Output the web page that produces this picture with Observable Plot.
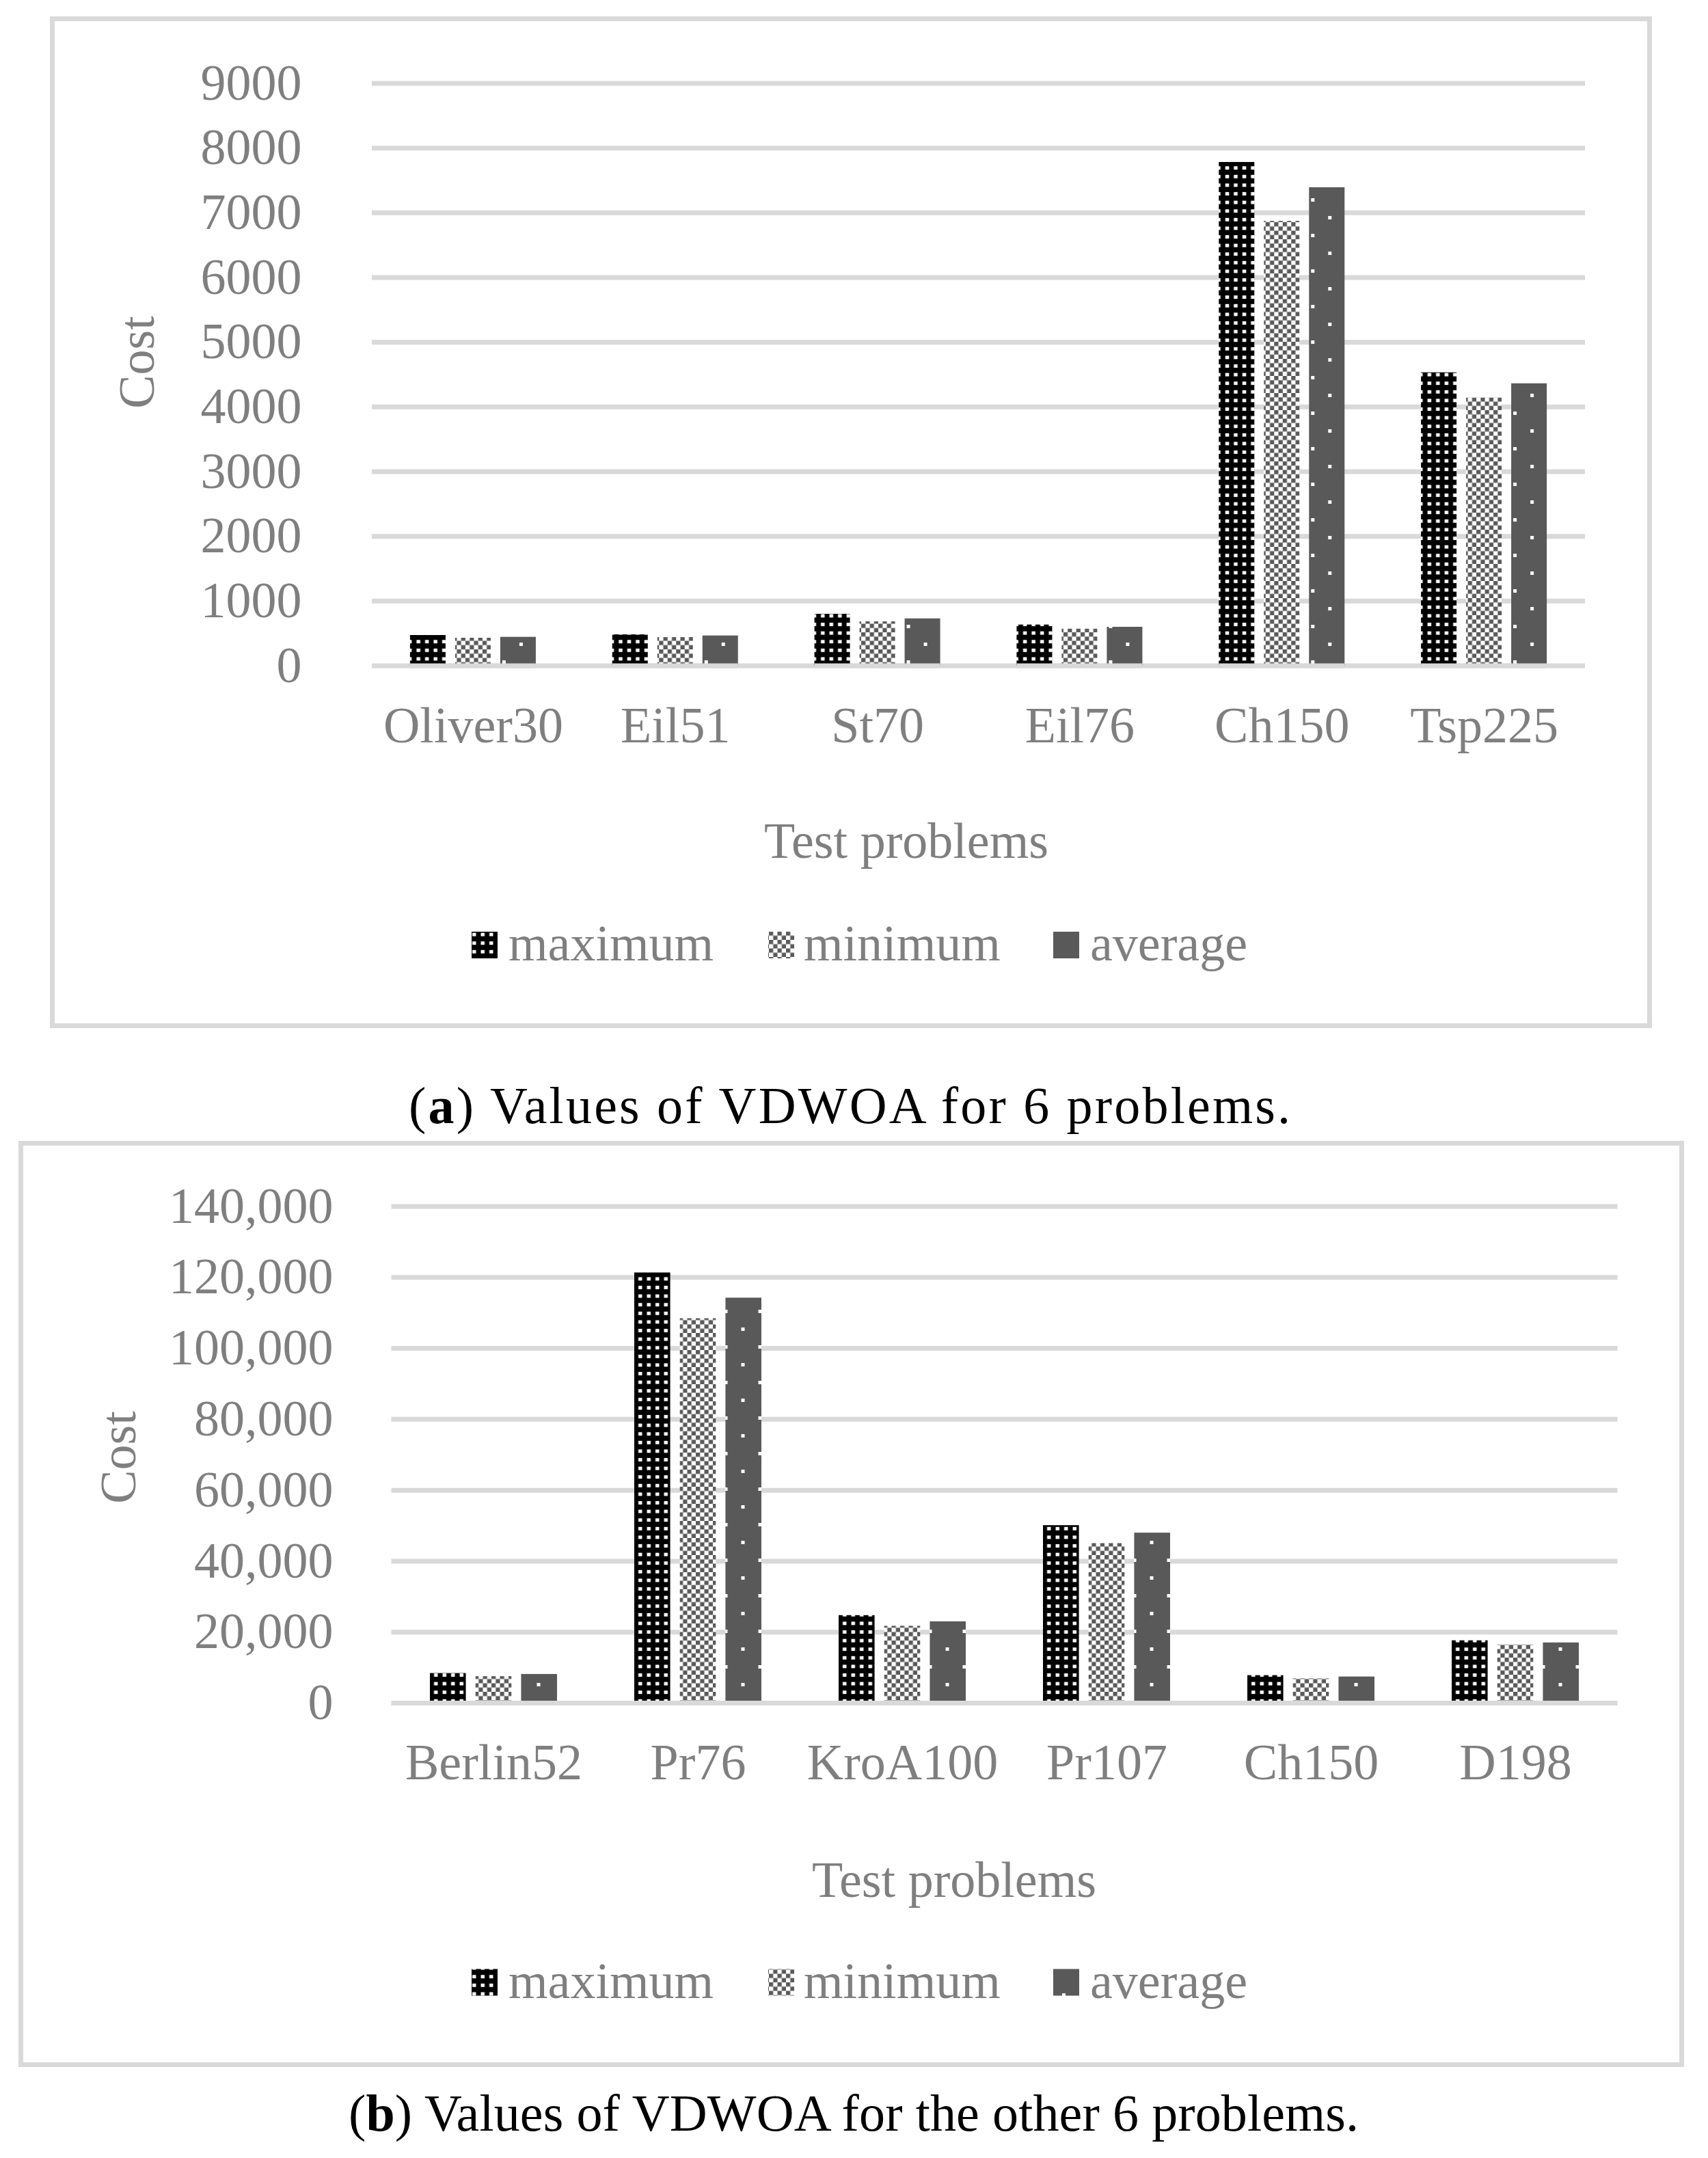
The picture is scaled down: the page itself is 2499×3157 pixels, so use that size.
<!DOCTYPE html>
<html>
<head>
<meta charset="utf-8">
<script src="https://cdn.jsdelivr.net/npm/d3@7"></script>
<script src="https://cdn.jsdelivr.net/npm/@observablehq/plot@0.6"></script>
<style>
  html, body { margin: 0; padding: 0; background: #fff; }
  body { position: relative; width: 2499px; height: 3157px; overflow: hidden; font-family: "Liberation Serif", "Times New Roman", serif; }
  .abs { position: absolute; }
  .abs > svg { position: absolute; left: 0; top: 0; }
  .border { position: absolute; box-sizing: border-box; border: 7px solid #d9d9d9; }
  #overlay { position: absolute; left: 0; top: 0; pointer-events: none; }
</style>
</head>
<body>
<div class="border" style="left:73px; top:24px; width:2344px; height:1480px;"></div>
<div class="border" style="left:27px; top:1669px; width:2437px; height:1355px;"></div>
<div id="panelA" class="abs" style="left:0; top:0; width:2499px; height:1300px;"></div>
<div id="panelB" class="abs" style="left:0; top:1600px; width:2499px; height:1100px;"></div>
<svg id="overlay" width="2499" height="3157"></svg>
<script>
// ---------- data ----------
const series = ["maximum", "minimum", "average"];

const problemsA = ["Oliver30", "Eil51", "St70", "Eil76", "Ch150", "Tsp225"];
const maxA = [470, 480, 798, 632, 7780, 4530];
const minA = [428, 438, 681, 568, 6870, 4140];
const avgA = [442, 463, 727, 597, 7390, 4360];
const ticksA = [0, 1000, 2000, 3000, 4000, 5000, 6000, 7000, 8000, 9000];

const problemsB = ["Berlin52", "Pr76", "KroA100", "Pr107", "Ch150", "D198"];
const maxB = [8370, 121300, 24700, 50060, 7780, 17600];
const minB = [7490, 108400, 21700, 45000, 6870, 16430];
const avgB = [8110, 114200, 22950, 47950, 7390, 17000];
const ticksB = [0, 20000, 40000, 60000, 80000, 100000, 120000, 140000];

const captionA = ["(", "a", ") Values of VDWOA for 6 problems."];
const captionB = ["(", "b", ") Values of VDWOA for the other 6 problems."];

// ---------- patterns ----------
const overlay = d3.select("#overlay");
const defs = overlay.append("defs");
const pmax = defs.append("pattern").attr("id", "pmax").attr("patternUnits", "userSpaceOnUse")
  .attr("width", 12.5).attr("height", 12.6);
pmax.append("rect").attr("width", 12.5).attr("height", 12.6).attr("fill", "#000");
pmax.append("rect").attr("x", 3.5).attr("y", 3.8).attr("width", 5.5).attr("height", 5).attr("fill", "#fff");
const pmin = defs.append("pattern").attr("id", "pmin").attr("patternUnits", "userSpaceOnUse")
  .attr("width", 12.5).attr("height", 12.5);
pmin.append("rect").attr("width", 12.5).attr("height", 12.5).attr("fill", "#fff");
pmin.append("rect").attr("width", 6.25).attr("height", 6.25).attr("fill", "#5a5a5a");
pmin.append("rect").attr("x", 6.25).attr("y", 6.25).attr("width", 6.25).attr("height", 6.25).attr("fill", "#5a5a5a");
const pavg = defs.append("pattern").attr("id", "pavg").attr("patternUnits", "userSpaceOnUse")
  .attr("width", 50).attr("height", 52);
pavg.append("rect").attr("width", 50).attr("height", 52).attr("fill", "#595959");
pavg.append("rect").attr("x", 4).attr("y", 4).attr("width", 5).attr("height", 5).attr("fill", "#fff");
pavg.append("rect").attr("x", 29).attr("y", 30).attr("width", 5).attr("height", 5).attr("fill", "#fff");
const fills = ["url(#pmax)", "url(#pmin)", "url(#pavg)"];

function rows(problems, maxV, minV, avgV) {
  const vals = [maxV, minV, avgV];
  return problems.flatMap((p, i) => series.map((s, j) => ({problem: p, series: s, value: vals[j][i]})));
}

const grey = "#7f7f7f";
const font = "'Liberation Serif', 'Times New Roman', serif";

function panel(container, o) {
  const common = {
    width: 2499, height: o.height,
    marginTop: o.marginTop, marginBottom: o.marginBottom,
    marginLeft: o.marginLeft, marginRight: o.marginRight,
    style: {fontFamily: font, fontSize: "74px", color: grey, background: "transparent", overflow: "visible"},
    y: {domain: [0, o.yMax], axis: null}
  };
  // background: gridlines and value labels, spanning the whole plot area
  const back = Plot.plot({
    ...common,
    marks: [
      Plot.ruleY(o.ticks, {stroke: "#d9d9d9", strokeWidth: 7}),
      Plot.text(o.ticks, {y: d => d, text: o.format, frameAnchor: "left", textAnchor: "end", dx: o.labelDx, fill: grey, fontSize: 74})
    ]
  });
  // foreground: grouped bars (faceted by problem), baseline over bars, category labels
  const front = Plot.plot({
    ...common,
    fx: {domain: o.problems, paddingInner: 0.378, paddingOuter: 0.189, round: false, label: null},
    x: {domain: series, paddingInner: 0.212, paddingOuter: 0, round: false, axis: null},
    color: {domain: series, range: fills},
    marks: [
      Plot.barY(o.data, {fx: "problem", x: "series", y: "value", fill: "series"}),
      Plot.ruleY([0], {stroke: "#d9d9d9", strokeWidth: 7}),
      Plot.axisFx({anchor: "bottom", tickSize: 0, tickPadding: 59, label: null, fontSize: 74, fill: grey})
    ]
  });
  container.append(back);
  container.append(front);
}

panel(document.getElementById("panelA"), {
  problems: problemsA, data: rows(problemsA, maxA, minA, avgA), ticks: ticksA, yMax: 9000,
  height: 1300, marginTop: 121.5, marginBottom: 326.5, marginLeft: 544, marginRight: 180,
  labelDx: -103, format: d => String(d)
});
panel(document.getElementById("panelB"), {
  problems: problemsB, data: rows(problemsB, maxB, minB, avgB), ticks: ticksB, yMax: 140000,
  height: 1100, marginTop: 164.5, marginBottom: 209, marginLeft: 572.5, marginRight: 132.5,
  labelDx: -85.5, format: d3.format(",")
});

// ---------- titles, legends, captions ----------
function addText(x, y, str, opts = {}) {
  const t = overlay.append("text").attr("x", x).attr("y", y).text(str)
    .attr("font-family", font).attr("font-size", opts.size || 74)
    .attr("fill", opts.fill || grey).attr("text-anchor", opts.anchor || "start");
  if (opts.transform) t.attr("transform", opts.transform).attr("x", 0).attr("y", 0);
  return t;
}
addText(0, 0, "Cost", {anchor: "middle", transform: "translate(225,530) rotate(-90)"});
addText(0, 0, "Cost", {anchor: "middle", transform: "translate(198,2132) rotate(-90)"});
addText(1326, 1255, "Test problems", {anchor: "middle"});
addText(1396, 2775, "Test problems", {anchor: "middle"});

const legendX = [{sx: 690, tx: 744}, {sx: 1124, tx: 1176}, {sx: 1541, tx: 1595}];
for (const top of [1363, 2880.5]) {
  series.forEach((s, i) => {
    overlay.append("rect").attr("x", legendX[i].sx).attr("y", top).attr("width", 38).attr("height", 39).attr("fill", fills[i]);
    addText(legendX[i].tx, top + 42, s);
  });
}

function caption(cx, y, parts, len) {
  const t = overlay.append("text").attr("x", cx).attr("y", y).attr("text-anchor", "middle")
    .attr("font-family", font).attr("font-size", 76).attr("fill", "#000")
    .attr("textLength", len).attr("lengthAdjust", "spacing");
  t.append("tspan").text(parts[0]);
  t.append("tspan").attr("font-weight", "bold").text(parts[1]);
  t.append("tspan").text(parts[2]);
}
caption(1243, 1643, captionA, 1290);
caption(1249, 3117, captionB, 1478);
</script>
</body>
</html>
